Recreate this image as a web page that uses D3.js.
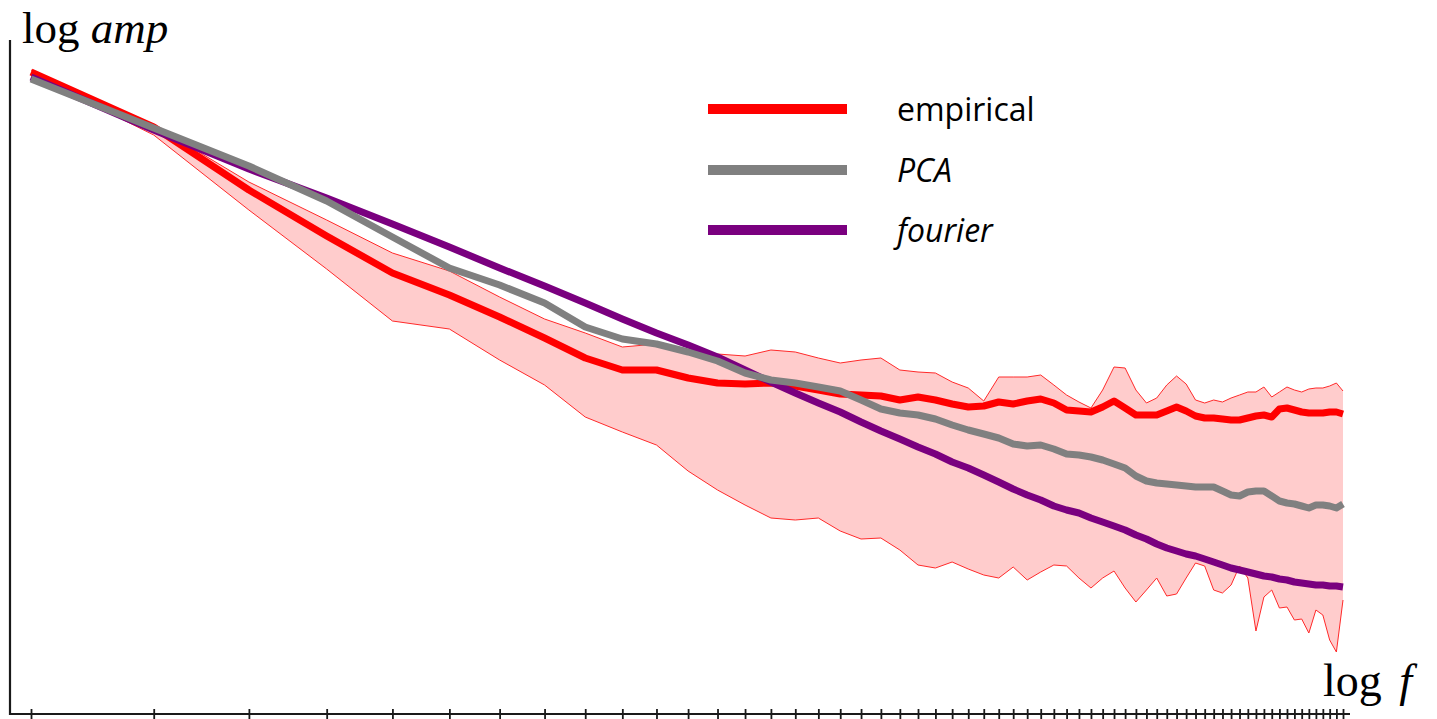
<!DOCTYPE html>
<html>
<head>
<meta charset="utf-8">
<script src="https://cdn.jsdelivr.net/npm/d3@7"></script>
<style>
  html, body { margin: 0; padding: 0; background: #fff; }
  svg { display: block; }
</style>
</head>
<body>
<svg id="chart" width="1437" height="719"></svg>
<script>
// ---- DATA ----
// frequency index (log-spaced axis), one tick per frequency
const freqs = d3.range(3, 66); // 63 frequencies

const empirical = [6.41,5.86,5.23,4.77,4.40,4.18,3.96,3.75,3.55,3.43,3.43,3.35,3.30,3.29,3.30,3.27,3.23,3.19,3.18,3.17,3.13,3.16,3.13,3.09,3.06,3.07,3.11,3.09,3.12,3.14,3.10,3.03,3.02,3.01,3.06,3.12,3.05,2.98,2.98,2.98,3.02,3.06,3.02,2.97,2.95,2.95,2.94,2.93,2.93,2.95,2.97,2.98,2.96,3.04,3.05,3.03,3.01,3.00,3.00,3.00,3.01,3.01,2.99];

const empiricalUpper = [6.43,5.88,5.31,4.93,4.60,4.42,4.16,3.94,3.80,3.66,3.69,3.63,3.59,3.57,3.63,3.61,3.55,3.50,3.53,3.55,3.43,3.41,3.40,3.31,3.25,3.12,3.36,3.36,3.36,3.38,3.28,3.18,3.11,3.05,3.23,3.46,3.45,3.23,3.10,3.15,3.28,3.37,3.29,3.13,3.10,3.13,3.11,3.15,3.18,3.21,3.21,3.26,3.16,3.21,3.26,3.23,3.21,3.24,3.25,3.25,3.27,3.30,3.22];

const empiricalLower = [6.39,5.78,5.03,4.44,3.92,3.84,3.53,3.28,2.96,2.81,2.68,2.42,2.23,2.08,1.95,1.93,1.95,1.82,1.74,1.75,1.63,1.48,1.45,1.51,1.44,1.38,1.35,1.46,1.33,1.41,1.48,1.47,1.35,1.25,1.35,1.42,1.25,1.11,1.23,1.35,1.17,1.19,1.35,1.50,1.47,1.23,1.20,1.28,1.47,1.35,0.82,1.16,1.23,1.05,1.06,0.93,0.94,0.80,1.03,0.98,0.73,0.61,1.13];

const pca = [6.34,5.85,5.47,5.12,4.76,4.45,4.28,4.10,3.86,3.74,3.69,3.61,3.52,3.40,3.33,3.30,3.26,3.22,3.13,3.04,3.00,2.98,2.94,2.88,2.83,2.79,2.75,2.69,2.67,2.68,2.64,2.59,2.58,2.56,2.53,2.49,2.45,2.37,2.32,2.30,2.29,2.28,2.27,2.26,2.26,2.26,2.22,2.18,2.17,2.21,2.22,2.22,2.17,2.12,2.10,2.09,2.07,2.05,2.08,2.08,2.07,2.05,2.09];

const fourier = [6.36,5.83,5.44,5.15,4.89,4.66,4.45,4.27,4.10,3.94,3.80,3.68,3.56,3.43,3.31,3.20,3.10,3.01,2.91,2.82,2.74,2.66,2.59,2.51,2.45,2.38,2.31,2.24,2.18,2.13,2.07,2.03,2.00,1.95,1.91,1.87,1.83,1.78,1.74,1.69,1.65,1.62,1.59,1.57,1.54,1.51,1.48,1.45,1.43,1.41,1.39,1.37,1.36,1.34,1.33,1.31,1.30,1.29,1.28,1.28,1.27,1.27,1.26];

const seriesNames = ["empirical", "PCA", "fourier"];
const seriesColors = ["#ff0000", "#808080", "#7a007f"];
const seriesItalic = [false, true, true];

// ---- CHART ----
const svg = d3.select("#chart");

const x = d3.scaleLog().domain([3, 65]).range([31, 1343]);
const y = d3.scaleLinear().domain([0, 6.73]).range([713, 40]);

// band
const band = freqs.map((f, i) => ({ f, lo: empiricalLower[i], hi: empiricalUpper[i] }));
svg.append("path")
  .datum(band)
  .attr("d", d3.area().x(d => x(d.f)).y0(d => y(d.lo)).y1(d => y(d.hi)))
  .attr("fill", "#ffcccc")
  .attr("stroke", "none");
const edgeLine = d3.line().x(d => x(d[0])).y(d => y(d[1]));
svg.append("path").datum(freqs.map((f, i) => [f, empiricalUpper[i]]))
  .attr("d", edgeLine).attr("fill", "none").attr("stroke", "#ff2a2a").attr("stroke-width", 1);
svg.append("path").datum(freqs.map((f, i) => [f, empiricalLower[i]]))
  .attr("d", edgeLine).attr("fill", "none").attr("stroke", "#ff2a2a").attr("stroke-width", 1);

// lines
const lineGen = d3.line().x(d => x(d[0])).y(d => y(d[1]));
const drawOrder = [[empirical, 0], [fourier, 2], [pca, 1]];
drawOrder.forEach(([vals, ci]) => {
  svg.append("path")
    .datum(freqs.map((f, i) => [f, vals[i]]))
    .attr("d", lineGen)
    .attr("fill", "none")
    .attr("stroke", seriesColors[ci])
    .attr("stroke-width", 7)
    .attr("stroke-linejoin", "round");
});

// axes
const axisColor = "#1a1a1a";
svg.append("line").attr("x1", 10).attr("x2", 10).attr("y1", 40).attr("y2", 715)
  .attr("stroke", axisColor).attr("stroke-width", 2.2);
svg.append("line").attr("x1", 9).attr("x2", 1350).attr("y1", 714).attr("y2", 714)
  .attr("stroke", axisColor).attr("stroke-width", 2.2);

const xAxis = d3.axisBottom(x).tickValues(freqs).tickFormat("").tickSizeOuter(0).tickSizeInner(5);
const gx = svg.append("g").attr("transform", "translate(0,714)").call(xAxis);
gx.select(".domain").remove();
gx.selectAll(".tick line").attr("y1", -5).attr("y2", 6)
  .attr("stroke", axisColor).attr("stroke-width", 1.8);

// axis titles
const yt = svg.append("text").attr("x", 22).attr("y", 43)
  .attr("font-family", "'Liberation Serif', 'Times New Roman', serif")
  .attr("font-size", 45).attr("fill", "#000");
yt.append("tspan").text("log ");
yt.append("tspan").attr("font-style", "italic").text("amp");

const xt = svg.append("text").attr("x", 1323).attr("y", 696)
  .attr("font-family", "'Liberation Serif', 'Times New Roman', serif")
  .attr("font-size", 46).attr("fill", "#000");
xt.append("tspan").text("log ");
xt.append("tspan").attr("font-style", "italic").attr("dx", 6).text("f");

// legend
const legendY = [109, 170, 230];
const legend = svg.append("g");
seriesNames.forEach((name, i) => {
  legend.append("line")
    .attr("x1", 708).attr("x2", 847)
    .attr("y1", legendY[i]).attr("y2", legendY[i])
    .attr("stroke", seriesColors[i]).attr("stroke-width", 10);
  legend.append("text")
    .attr("x", 897).attr("y", legendY[i] + 12)
    .attr("font-family", "'Open Sans', sans-serif")
    .attr("font-size", 32)
    .attr("font-style", seriesItalic[i] ? "italic" : "normal")
    .attr("fill", "#000")
    .text(name);
});
</script>
</body>
</html>
